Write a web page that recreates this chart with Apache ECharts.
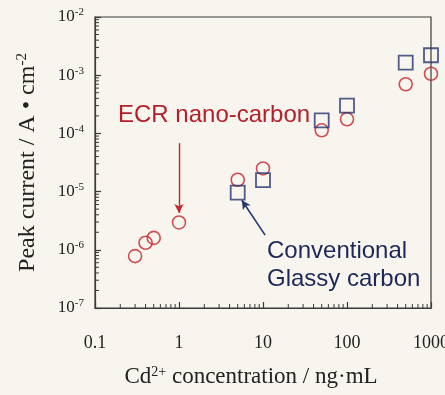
<!DOCTYPE html>
<html><head><meta charset="utf-8">
<script src="https://cdn.jsdelivr.net/npm/echarts@6/dist/echarts.min.js"></script>
<style>html,body{margin:0;padding:0;background:#f7f5ee;}#c{width:445px;height:395px;}</style>
</head><body><div id="c"></div>
<script>
// Data
var ecrX = [0.3, 0.4, 0.5, 1, 5, 10, 50, 100, 500, 1000];
var ecrY = [7.8e-7, 1.32e-6, 1.6e-6, 2.95e-6, 1.6e-5, 2.5e-5, 1.13e-4, 1.75e-4, 7.0e-4, 1.06e-3];
var gcX = [5, 10, 50, 100, 500, 1000];
var gcY = [9.6e-6, 1.57e-5, 1.68e-4, 3.0e-4, 1.64e-3, 2.2e-3];
var xTickLabels = {'-1': '0.1', '0': '1', '1': '10', '2': '100', '3': '1000'};
var yExponents = [-7, -6, -5, -4, -3, -2];
var minorMult = [2, 3, 4, 5, 6, 7, 8, 9];
var xDecades = [-1, 0, 1, 2];
var yDecades = [-7, -6, -5, -4, -3];
var ecrArrow = [[1, 6.8e-5], [1, 4.3e-6]];
var gcArrow = [[10.6, 1.79e-6], [5.6, 7.1e-6]];

var RED = '#c4242c', NAVY = '#26346f', AXIS = '#3a3a3a';
var SERIF = '"Liberation Serif","DejaVu Serif",serif';
var SANS = '"Liberation Sans",Arial,sans-serif';

var xMinor = [], yMinor = [];
xDecades.forEach(function (d) { minorMult.forEach(function (m) { xMinor.push([m * Math.pow(10, d), 1e-7]); }); });
yDecades.forEach(function (d) { minorMult.forEach(function (m) { yMinor.push([0.1, m * Math.pow(10, d)]); }); });

var chart = echarts.init(document.getElementById('c'), null, {renderer: 'canvas'});
chart.setOption({
  backgroundColor: '#f7f5ee',
  animation: false,
  grid: {left: 95, right: 14, top: 17, bottom: 87, containLabel: false, outerBoundsMode: 'none',
    show: true, borderColor: AXIS, borderWidth: 1.2, backgroundColor: 'transparent'},
  xAxis: {
    type: 'log', logBase: 10, min: 0.1, max: 1000,
    name: 'Cd{s|2+} concentration / ng·mL', nameLocation: 'middle', nameGap: 57,
    nameTextStyle: {fontFamily: SERIF, fontSize: 23, color: '#222', padding: [0, 24, 0, 0],
      rich: {s: {fontFamily: SERIF, fontSize: 14, verticalAlign: 'top', padding: [0, 0, 10, 0], color: '#222'}}},
    axisLine: {lineStyle: {color: AXIS, width: 1.2}},
    axisTick: {inside: true, length: 6, lineStyle: {color: AXIS, width: 1.2}},
    splitLine: {show: false},
    axisLabel: {margin: 26, fontFamily: SERIF, fontSize: 18, color: '#222', hideOverlap: false,
      formatter: function (v) { return xTickLabels[String(Math.round(Math.log10(v)))] || ''; }}
  },
  yAxis: {
    type: 'log', logBase: 10, min: 1e-7, max: 1e-2,
    name: 'Peak current / A • cm{s|-2}', nameLocation: 'middle', nameGap: 55, nameRotate: 90,
    nameTextStyle: {fontFamily: SERIF, fontSize: 24, color: '#222',
      rich: {s: {fontFamily: SERIF, fontSize: 15, verticalAlign: 'top', padding: [0, 0, 10, 0], color: '#222'}}},
    axisLine: {lineStyle: {color: AXIS, width: 1.2}},
    axisTick: {inside: true, length: 6, lineStyle: {color: AXIS, width: 1.2}},
    splitLine: {show: false},
    axisLabel: {margin: 11, color: '#222',
      formatter: function (v) { return '{b|10}{s|' + Math.round(Math.log10(v)) + '}'; },
      rich: {b: {fontFamily: SERIF, fontSize: 17, color: '#222', lineHeight: 20},
             s: {fontFamily: SERIF, fontSize: 11, color: '#222', verticalAlign: 'top', lineHeight: 20, padding: [0, 0, 8, 0]}}}
  },
  series: [
    {type: 'custom', silent: true, clip: false, z: 3, data: xMinor,
      renderItem: function (params, api) {
        var p = api.coord([api.value(0), api.value(1)]);
        return {type: 'line', shape: {x1: p[0], y1: p[1], x2: p[0], y2: p[1] - 4}, style: {stroke: AXIS, lineWidth: 1}};
      }},
    {type: 'custom', silent: true, clip: false, z: 3, data: yMinor,
      renderItem: function (params, api) {
        var p = api.coord([api.value(0), api.value(1)]);
        return {type: 'line', shape: {x1: p[0], y1: p[1], x2: p[0] + 4, y2: p[1]}, style: {stroke: AXIS, lineWidth: 1}};
      }},
    {type: 'scatter', name: 'ECR nano-carbon', symbol: 'circle', symbolSize: 13, z: 4,
      data: ecrX.map(function (x, i) { return [x, ecrY[i]]; }),
      itemStyle: {color: 'rgba(0,0,0,0)', borderColor: RED, borderWidth: 1.6},
      markLine: {silent: true, symbol: ['none', 'arrow'], symbolSize: [7, 9], label: {show: false},
        lineStyle: {color: RED, width: 1.4, type: 'solid'},
        data: [[{coord: ecrArrow[0]}, {coord: ecrArrow[1]}]]}},
    {type: 'scatter', name: 'Conventional Glassy carbon', symbol: 'rect', symbolSize: 14, z: 5,
      data: gcX.map(function (x, i) { return [x, gcY[i]]; }),
      itemStyle: {color: 'rgba(0,0,0,0)', borderColor: NAVY, borderWidth: 1.8},
      markLine: {silent: true, symbol: ['none', 'arrow'], symbolSize: [7, 9], label: {show: false},
        lineStyle: {color: NAVY, width: 1.6, type: 'solid'},
        data: [[{coord: gcArrow[0]}, {coord: gcArrow[1]}]]}}
  ],
  graphic: [
    {type: 'text', left: 118, top: 103, style: {text: 'ECR nano-carbon', font: '24px ' + SANS, fill: '#b3202b'}},
    {type: 'text', left: 267, top: 237, style: {text: 'Conventional\nGlassy carbon', font: '24px ' + SANS, fill: '#1d2758', lineHeight: 28}}
  ]
});
</script></body></html>
